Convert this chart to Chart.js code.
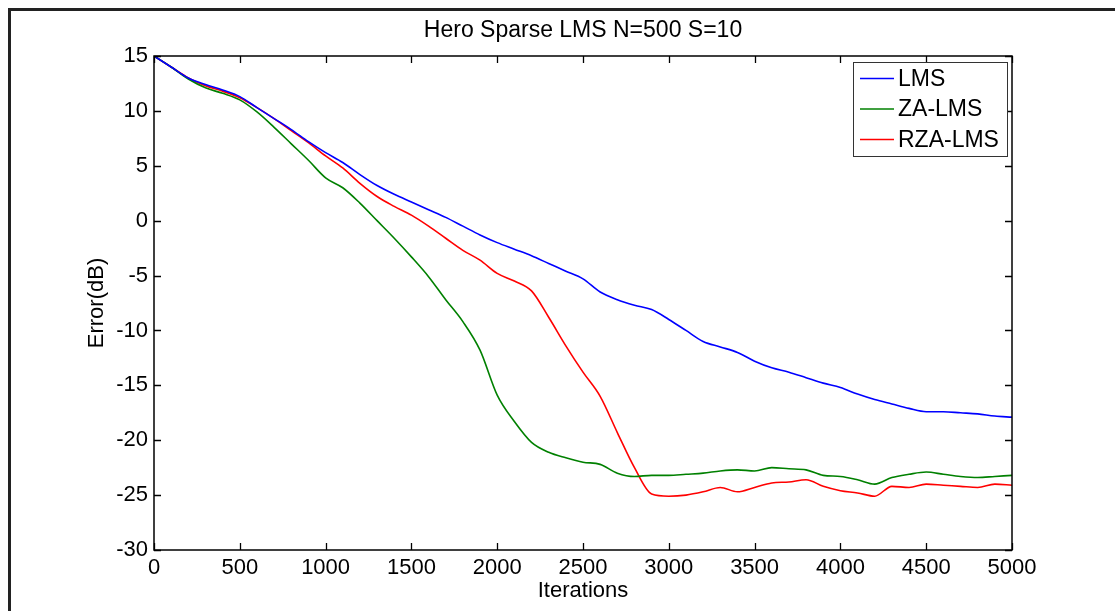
<!DOCTYPE html>
<html>
<head>
<meta charset="utf-8">
<style>
  html, body { margin: 0; padding: 0; background: #fff; }
  #wrap { width: 1115px; height: 611px; position: relative; }
</style>
<script src="https://cdn.jsdelivr.net/npm/chart.js@4/dist/chart.umd.min.js"></script>
</head>
<body>
<div id="wrap"><canvas id="errChart"></canvas></div>
<script>
// values, every 100 iterations
const iterations = [0, 100, 200, 300, 400, 500, 600, 700, 800, 900, 1000,
  1100, 1200, 1300, 1400, 1500, 1600, 1700, 1800, 1900, 2000,
  2100, 2200, 2300, 2400, 2500, 2600, 2700, 2800, 2900, 3000,
  3100, 3200, 3300, 3400, 3500, 3600, 3700, 3800, 3900, 4000,
  4100, 4200, 4300, 4400, 4500, 4600, 4700, 4800, 4900, 5000];

const lmsErr = [15, 14.0, 13.0, 12.4, 11.9, 11.3, 10.3, 9.3, 8.3, 7.2, 6.2,
  5.3, 4.2, 3.2, 2.4, 1.7, 1.0, 0.3, -0.5, -1.3, -2.0,
  -2.6, -3.2, -3.9, -4.6, -5.3, -6.5, -7.2, -7.7, -8.1, -9.0,
  -10.0, -11.0, -11.5, -12.0, -12.8, -13.4, -13.8, -14.3, -14.8, -15.2,
  -15.8, -16.3, -16.7, -17.1, -17.4, -17.4, -17.5, -17.6, -17.8, -17.9];

const zaLmsErr = [15, 14.0, 12.9, 12.1, 11.6, 11.0, 9.9, 8.5, 7.0, 5.5, 3.9,
  3.0, 1.6, 0.0, -1.6, -3.3, -5.1, -7.2, -9.2, -11.8, -15.9,
  -18.3, -20.2, -21.1, -21.6, -22.0, -22.2, -23.0, -23.3, -23.2, -23.2,
  -23.1, -23.0, -22.8, -22.7, -22.8, -22.5, -22.6, -22.7, -23.2, -23.3,
  -23.6, -24.0, -23.4, -23.1, -22.9, -23.1, -23.3, -23.4, -23.3, -23.2];

const rzaLmsErr = [15, 14.0, 13.0, 12.3, 11.8, 11.2, 10.3, 9.3, 8.2, 7.1, 5.9,
  4.8, 3.4, 2.2, 1.3, 0.5, -0.5, -1.6, -2.7, -3.6, -4.8,
  -5.5, -6.4, -8.8, -11.4, -13.8, -16.0, -19.3, -22.5, -24.9, -25.1,
  -25.0, -24.7, -24.3, -24.7, -24.3, -23.9, -23.8, -23.6, -24.2, -24.6,
  -24.8, -25.1, -24.2, -24.3, -24.0, -24.1, -24.2, -24.3, -24.0, -24.1];

const seriesNames  = ['LMS', 'ZA-LMS', 'RZA-LMS'];
const seriesColors = ['#0000ff', '#008000', '#ff0000'];
const chartTitle   = 'Hero Sparse LMS N=500 S=10';

const FONT = "Arial, 'Liberation Sans', sans-serif";
const FSIZE = 22;

function toPoints(vals) {
  return vals.map((v, i) => ({ x: iterations[i], y: v }));
}

// matlab-ish frame: box, inward ticks on all sides, title, legend, outer border
const matlabFrame = {
  id: 'matlabFrame',
  afterDraw(chart) {
    const { ctx, chartArea: a, scales } = chart;
    ctx.save();

    // outer figure border (top + left only visible)
    ctx.strokeStyle = '#222';
    ctx.lineWidth = 3;
    ctx.beginPath();
    ctx.moveTo(9.5, 611);
    ctx.lineTo(9.5, 9.5);
    ctx.lineTo(1115, 9.5);
    ctx.stroke();

    // axes box
    ctx.strokeStyle = '#000';
    ctx.lineWidth = 1.5;
    ctx.strokeRect(a.left, a.top, a.right - a.left, a.bottom - a.top);

    // inward ticks
    const tl = 7;
    ctx.lineWidth = 1.3;
    ctx.beginPath();
    scales.x.ticks.forEach(t => {
      const px = Math.round(scales.x.getPixelForValue(t.value)) + 0.5;
      ctx.moveTo(px, a.bottom); ctx.lineTo(px, a.bottom - tl);
      ctx.moveTo(px, a.top);    ctx.lineTo(px, a.top + tl);
    });
    scales.y.ticks.forEach(t => {
      const py = Math.round(scales.y.getPixelForValue(t.value)) + 0.5;
      ctx.moveTo(a.left, py);  ctx.lineTo(a.left + tl, py);
      ctx.moveTo(a.right, py); ctx.lineTo(a.right - tl, py);
    });
    ctx.stroke();

    // title
    ctx.fillStyle = '#000';
    ctx.font = '23px ' + FONT;
    ctx.textAlign = 'center';
    ctx.textBaseline = 'middle';
    ctx.fillText(chartTitle, (a.left + a.right) / 2, 31);

    // legend box
    const lx = 853, ly = 62, lw = 154, lh = 94;
    ctx.fillStyle = '#fff';
    ctx.fillRect(lx, ly, lw, lh);
    ctx.strokeStyle = '#333';
    ctx.lineWidth = 1;
    ctx.strokeRect(lx + 0.5, ly + 0.5, lw, lh);
    ctx.textAlign = 'left';
    chart.data.datasets.forEach((ds, i) => {
      const y = 78.5 + i * 30.5;
      ctx.strokeStyle = ds.borderColor;
      ctx.lineWidth = 1.6;
      ctx.beginPath();
      ctx.moveTo(860, y); ctx.lineTo(894, y);
      ctx.stroke();
      ctx.fillStyle = '#000';
      ctx.fillText(ds.label, 898, y + 1);
    });

    ctx.restore();
  }
};

new Chart(document.getElementById('errChart'), {
  type: 'line',
  data: {
    datasets: [
      { label: seriesNames[0], data: toPoints(lmsErr),    borderColor: seriesColors[0] },
      { label: seriesNames[1], data: toPoints(zaLmsErr),  borderColor: seriesColors[1] },
      { label: seriesNames[2], data: toPoints(rzaLmsErr), borderColor: seriesColors[2] }
    ]
  },
  options: {
    responsive: true,
    maintainAspectRatio: false,
    animation: false,
    layout: { padding: { left: 84, right: 103, top: 56, bottom: 7 } },
    elements: {
      line:  { borderWidth: 1.6, cubicInterpolationMode: 'monotone', fill: false },
      point: { radius: 0 }
    },
    plugins: {
      legend:  { display: false },
      tooltip: { enabled: false }
    },
    scales: {
      x: {
        type: 'linear',
        min: 0, max: 5000,
        afterFit(s) { s.height = 54; },
        grid: { display: false, drawTicks: false },
        border: { display: false },
        ticks: {
          stepSize: 500,
          padding: 5,
          maxRotation: 0,
          color: '#000',
          font: { family: FONT, size: FSIZE },
          callback: v => String(v)
        },
        title: {
          display: true,
          text: 'Iterations',
          color: '#000',
          padding: 0,
          font: { family: FONT, size: FSIZE }
        }
      },
      y: {
        min: -30, max: 15,
        afterFit(s) { s.width = 70; },
        grid: { display: false, drawTicks: false },
        border: { display: false },
        ticks: {
          stepSize: 5,
          padding: 6,
          color: '#000',
          font: { family: FONT, size: FSIZE }
        },
        title: {
          display: true,
          text: 'Error(dB)',
          color: '#000',
          padding: 0,
          font: { family: FONT, size: FSIZE }
        }
      }
    }
  },
  plugins: [matlabFrame]
});
</script>
</body>
</html>
